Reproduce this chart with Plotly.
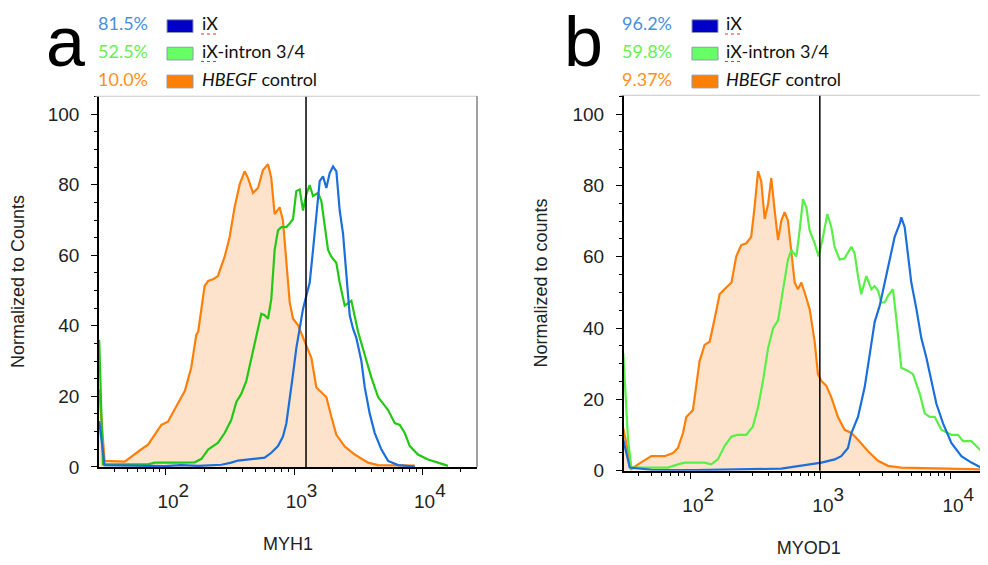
import plotly.graph_objects as go

# ---------------- data: panel a (MYH1) ----------------
a_orange_x = [30.3, 33.4, 47.9, 54.0, 64.6, 72.8, 84.5, 92.5, 104, 125, 141, 158, 173, 179, 201, 214, 234, 255,
              288, 315, 344, 377, 412, 438, 479, 524, 573, 627, 665, 706, 773, 820, 871, 925, 982, 1074, 1211,
              1365, 1493, 1633, 1786, 1954, 2138, 2483, 2972, 3776, 4519, 8730]
a_orange_y = [22, 1.7, 1.5, 3.0, 5.0, 6.3, 9.6, 11.9, 12.8, 17.9, 21.6, 28.1, 37.4, 38.3, 51.3, 52.7, 53.2, 54.1,
              59.6, 65.2, 73.6, 80.1, 83.8, 81.9, 77.7, 79.1, 84.2, 85.8, 81.9, 71.7, 73.6, 69.9, 58.7, 46.7, 42.0,
              40.2, 35.5, 30.9, 22.5, 21.2, 19.8, 14.2, 9.1, 5.8, 3.5, 1.2, 0.5, 0.4]

a_green_x = [30.3, 32.4, 72.8, 82.0, 132, 168, 190, 214, 234, 255, 288, 324, 355, 388, 425, 465, 508, 556, 590,
             627, 665, 706, 750, 796, 871, 925, 982, 1042, 1107, 1175, 1247, 1324, 1406, 1538, 1633, 1734, 1841,
             1954, 2138, 2270, 2483, 2799, 2972, 3155, 3556, 4009, 4519, 5408, 6095, 6668, 7295, 7980, 9247,
             11066, 13243, 15849]
a_green_y = [36, 0.7, 0.7, 1.2, 1.2, 1.3, 2.3, 4.9, 5.9, 6.8, 9.6, 13.3, 18.4, 20.7, 24.4, 30.9, 37.4, 43.4, 43.0,
             42.0, 47.6, 61.5, 67.1, 68.0, 68.0, 69.0, 70.3, 78.2, 78.7, 72.7, 77.3, 79.9, 76.8, 77.7, 75.4, 68.0,
             61.5, 59.6, 57.8, 52.2, 45.7, 47.1, 42.9, 38.3, 31.8, 25.3, 19.8, 16.1, 12.4, 11.9, 9.6, 5.9, 3.5,
             2.1, 1.2, 0.3]

a_blue_x = [30.3, 31.5, 33.4, 98.2, 132, 179, 272, 324, 366, 590, 665, 750, 820, 871, 925, 982, 1042, 1107, 1175,
            1247, 1324, 1406, 1493, 1585, 1683, 1786, 1897, 2014, 2138, 2270, 2410, 2559, 2716, 2884, 3062, 3350,
            3556, 3890, 4256, 4797, 5408, 6471, 8730]
a_blue_y = [13, 7.7, 0.5, 0.2, 0.5, 0.3, 0.6, 1.2, 1.8, 2.6, 4.0, 5.9, 8.6, 12.3, 18.8, 26.3, 33.7, 39.2, 44.8,
            48.5, 52.2, 61.5, 71.7, 81.0, 82.4, 79.1, 83.3, 85.2, 83.8, 72.7, 66.1, 54.1, 43.0, 39.2, 36.5, 30.0,
            22.6, 15.1, 9.6, 4.9, 1.7, 0.5, 0.1]

# ---------------- data: panel b (MYOD1) ----------------
b_orange_x = [30.3, 35.0, 39.4, 47.0, 49.8, 63.1, 73.1, 79.8, 87.3, 92.5, 98.2, 104, 110, 117, 128, 140, 153, 167,
              182, 206, 224, 245, 268, 292, 310, 330, 349, 371, 394, 417, 443, 470, 498, 528, 560, 594, 631, 668,
              710, 753, 822, 899, 953, 1012, 1104, 1208, 1358, 1528, 1722, 1936, 2312, 2761, 3296, 4169, 21000]
b_orange_y = [12, 0.5, 1.8, 3.7, 4.1, 4.1, 5.0, 6.4, 10.6, 15.1, 16.1, 17.0, 23.4, 30.7, 35.3, 36.2, 42.7, 49.5,
              50.9, 52.8, 60.1, 63.3, 63.8, 65.6, 73.9, 84.0, 81.2, 70.6, 74.8, 82.1, 72.9, 64.7, 70.2, 72.5, 70.2,
              61.0, 52.8, 50.9, 52.8, 50.0, 45.4, 36.2, 27.1, 25.2, 23.9, 20.6, 15.1, 11.5, 10.6, 8.7, 5.5, 2.8,
              1.4, 0.9, 0.3]

b_green_x = [30.3, 33.0, 35.0, 66.8, 79.8, 89.9, 128, 144, 162, 182, 206, 231, 268, 301, 330, 360, 394, 430, 470,
             513, 560, 594, 650, 689, 731, 776, 822, 899, 964, 1042, 1125, 1208, 1279, 1400, 1528, 1722, 1824,
             1936, 2051, 2244, 2455, 2600, 2761, 2924, 3105, 3296, 3597, 3819, 4169, 4699, 5129, 5781, 6310,
             6902, 7534, 8472, 10116, 11376, 12445, 14421, 16218, 18239, 20559, 21777]
b_green_y = [33, 8.7, 0.9, 0.9, 1.8, 2.3, 2.3, 1.8, 3.2, 6.9, 9.6, 10.1, 10.1, 12.4, 17.9, 25.2, 34.4, 39.9, 42.2,
             50.9, 59.2, 61.9, 60.1, 67.4, 76.2, 73.9, 67.4, 63.8, 60.1, 65.6, 72.0, 68.3, 62.8, 59.2, 59.6, 62.8,
             61.0, 54.6, 49.5, 54.6, 50.9, 51.8, 50.5, 47.2, 47.2, 49.1, 50.9, 42.7, 28.9, 28.0, 27.1, 21.6, 16.1,
             15.1, 15.1, 11.5, 10.1, 10.1, 8.3, 8.3, 6.4, 4.6, 4.3, 5.0]

b_blue_x = [30.3, 34.0, 49.8, 107, 498, 631, 798, 1012, 1282, 1439, 1622, 1722, 1936, 2178, 2382, 2600, 2844, 3105,
            3396, 3707, 4055, 4169, 4426, 4699, 4977, 5445, 5943, 6501, 7096, 7762, 8730, 10116, 12078, 14421,
            17219, 19364, 21878]
b_blue_y = [8.7, 0.9, 0.3, 0.2, 0.6, 1.2, 1.6, 2.3, 3.2, 4.1, 6.4, 10.6, 15.1, 23.4, 32.6, 41.7, 46.3, 52.8, 59.2,
            65.6, 69.3, 71.1, 68.3, 61.0, 52.8, 45.4, 37.2, 31.7, 25.2, 18.8, 13.3, 7.8, 4.1, 2.3, 0.9, 0.0, 0.0]

gate_a = 1240
gate_b = 985

legend_names = ["iX", "iX-intron 3/4", "<i>HBEGF</i> control"]
a_percent = ["81.5%", "52.5%", "10.0%"]
b_percent = ["96.2%", "59.8%", "9.37%"]

x_tickvals = [100, 1000, 10000]
x_exponents = ["2", "3", "4"]
y_tickvals = [0, 20, 40, 60, 80, 100]

# ---------------- styling ----------------
ORANGE = "#ff7f0a"
FILL = "#fde3cc"
GREEN_A = "#22c814"
GREEN_B = "#58ef46"
BLUE = "#1a6fdb"
AX_FAMILY = "Arial, 'Liberation Sans', sans-serif"
AX_FONT = dict(family=AX_FAMILY, size=19, color="#222222")
XT_FONT = dict(family=AX_FAMILY, size=27, color="#222222")
LEG_FONT = "Lato, 'Open Sans', sans-serif"
LETTER_FONT = "'Liberation Sans', Arial, sans-serif"

# base "10" at 19px, exponent (sup = 70% of 27px) at ~19px
x_ticktext = ["&nbsp;&nbsp;<span style='font-size:19px'>10</span><sup>" + e + "</sup>" for e in x_exponents]

fig = go.Figure()

def add_panel(xa, ya, ox, oy, gx, gy, bx, by, green):
    fig.add_trace(go.Scatter(x=ox, y=oy, mode="lines", line=dict(color=ORANGE, width=2.2),
                             fill="tozeroy", fillcolor=FILL, xaxis=xa, yaxis=ya, showlegend=False))
    fig.add_trace(go.Scatter(x=gx, y=gy, mode="lines", line=dict(color=green, width=2.2),
                             xaxis=xa, yaxis=ya, showlegend=False))
    fig.add_trace(go.Scatter(x=bx, y=by, mode="lines", line=dict(color=BLUE, width=2.2),
                             xaxis=xa, yaxis=ya, showlegend=False))

add_panel("x", "y", a_orange_x, a_orange_y, a_green_x, a_green_y, a_blue_x, a_blue_y, GREEN_A)
add_panel("x2", "y2", b_orange_x, b_orange_y, b_green_x, b_green_y, b_blue_x, b_blue_y, GREEN_B)

minor_x = [d * 10 ** e for e in (1, 2, 3, 4) for d in range(2, 10)]

def xaxis(domain, rng, title, anchor):
    return dict(domain=domain, type="log", range=rng, anchor=anchor,
                tickmode="array", tickvals=x_tickvals, ticktext=x_ticktext,
                ticks="outside", ticklen=6, tickwidth=1.2, tickcolor="black",
                tickfont=XT_FONT, ticklabelstandoff=1,
                minor=dict(tickmode="array", tickvals=minor_x, ticks="outside", ticklen=3,
                           tickwidth=1, tickcolor="black"),
                showline=True, linecolor="black", linewidth=1.5, showgrid=False, zeroline=False,
                title=dict(text=title, font=dict(family=AX_FAMILY, size=18, color="#222"),
                           standoff=24))

def yaxis(domain, rng, title, anchor):
    return dict(domain=domain, range=rng, anchor=anchor,
                tickmode="array", tickvals=y_tickvals,
                ticks="outside", ticklen=6, tickwidth=1.2, tickcolor="black",
                tickfont=AX_FONT, ticklabelstandoff=8,
                minor=dict(dtick=5, ticks="outside", ticklen=3, tickwidth=1, tickcolor="black"),
                showline=True, linecolor="black", linewidth=1.5, showgrid=False, zeroline=False,
                title=dict(text=title, font=dict(family=AX_FAMILY, size=18, color="#222"),
                           standoff=20))

fig.update_layout(
    width=988, height=565,
    margin=dict(l=0, r=0, t=0, b=0),
    paper_bgcolor="white", plot_bgcolor="white",
    xaxis=xaxis([91 / 988, 469 / 988], [1.48, 4.426], "MYH1", "y"),
    yaxis=yaxis([(565 - 468) / 565, (565 - 90) / 565], [0, 105.1], "Normalized to Counts", "x"),
    xaxis2=xaxis([615.7 / 988, 986 / 988], [1.485, 4.333], "MYOD1", "y2"),
    yaxis2=yaxis([(565 - 472) / 565, (565 - 89) / 565], [0, 105.3], "Normalized to counts", "x2"),
)

shapes = []
shapes.append(dict(type="line", xref="x", yref="y domain", x0=gate_a, x1=gate_a, y0=0, y1=1,
                   line=dict(color="black", width=1.5)))
shapes.append(dict(type="line", xref="x2", yref="y2 domain", x0=gate_b, x1=gate_b, y0=0, y1=1,
                   line=dict(color="black", width=1.5)))
shapes.append(dict(type="line", xref="x domain", yref="y domain", x0=-0.01, x1=1, y0=1, y1=1,
                   line=dict(color="#c8c8c8", width=1)))
shapes.append(dict(type="line", xref="x domain", yref="y domain", x0=1, x1=1, y0=0, y1=1,
                   line=dict(color="#444444", width=1)))
shapes.append(dict(type="line", xref="x2 domain", yref="y2 domain", x0=-0.01, x1=1.01, y0=1, y1=1,
                   line=dict(color="#c8c8c8", width=1)))

annotations = []
sw_colors = ["#0000c8", "#66ff66", "#ff8000"]
pc_colors = ["#4a8fe0", "#66ee55", "#ff9020"]
row_y = [18.5, 46.5, 75]

def legend_block(letter, letter_x, pct_right, sq_left, text_left, pcts):
    annotations.append(dict(text=letter, x=letter_x / 988, y=1 - 35 / 565, xref="paper", yref="paper",
                            showarrow=False, xanchor="center", yanchor="middle",
                            font=dict(family=LETTER_FONT, size=70, color="black")))
    for i in range(3):
        yc = 1 - (row_y[i] - 3) / 565
        annotations.append(dict(text=pcts[i], x=pct_right / 988, y=yc, xref="paper", yref="paper",
                                showarrow=False, xanchor="right", yanchor="middle",
                                font=dict(family=LEG_FONT, size=18, color=pc_colors[i])))
        annotations.append(dict(text=legend_names[i], x=text_left / 988, y=yc, xref="paper", yref="paper",
                                showarrow=False, xanchor="left", yanchor="middle",
                                font=dict(family=LEG_FONT, size=18, color="#111111")))
        shapes.append(dict(type="rect", xref="paper", yref="paper",
                           x0=sq_left / 988, x1=(sq_left + 26) / 988,
                           y0=1 - (row_y[i] + 6.5) / 565, y1=1 - (row_y[i] - 6.5) / 565,
                           fillcolor=sw_colors[i], line=dict(color="#8a9ab0", width=1)))
    for i in range(2):
        yy = 1 - (row_y[i] + 8) / 565
        shapes.append(dict(type="line", xref="paper", yref="paper",
                           x0=(text_left + 1) / 988, x1=(text_left + 18) / 988, y0=yy, y1=yy,
                           line=dict(color="#e03030", width=1, dash="dot")))

legend_block("a", 57, 142, 159, 192, a_percent)
legend_block("b", 575, 666, 684, 716, b_percent)

fig.update_layout(shapes=shapes, annotations=annotations)
fig.write_html("out.html")
